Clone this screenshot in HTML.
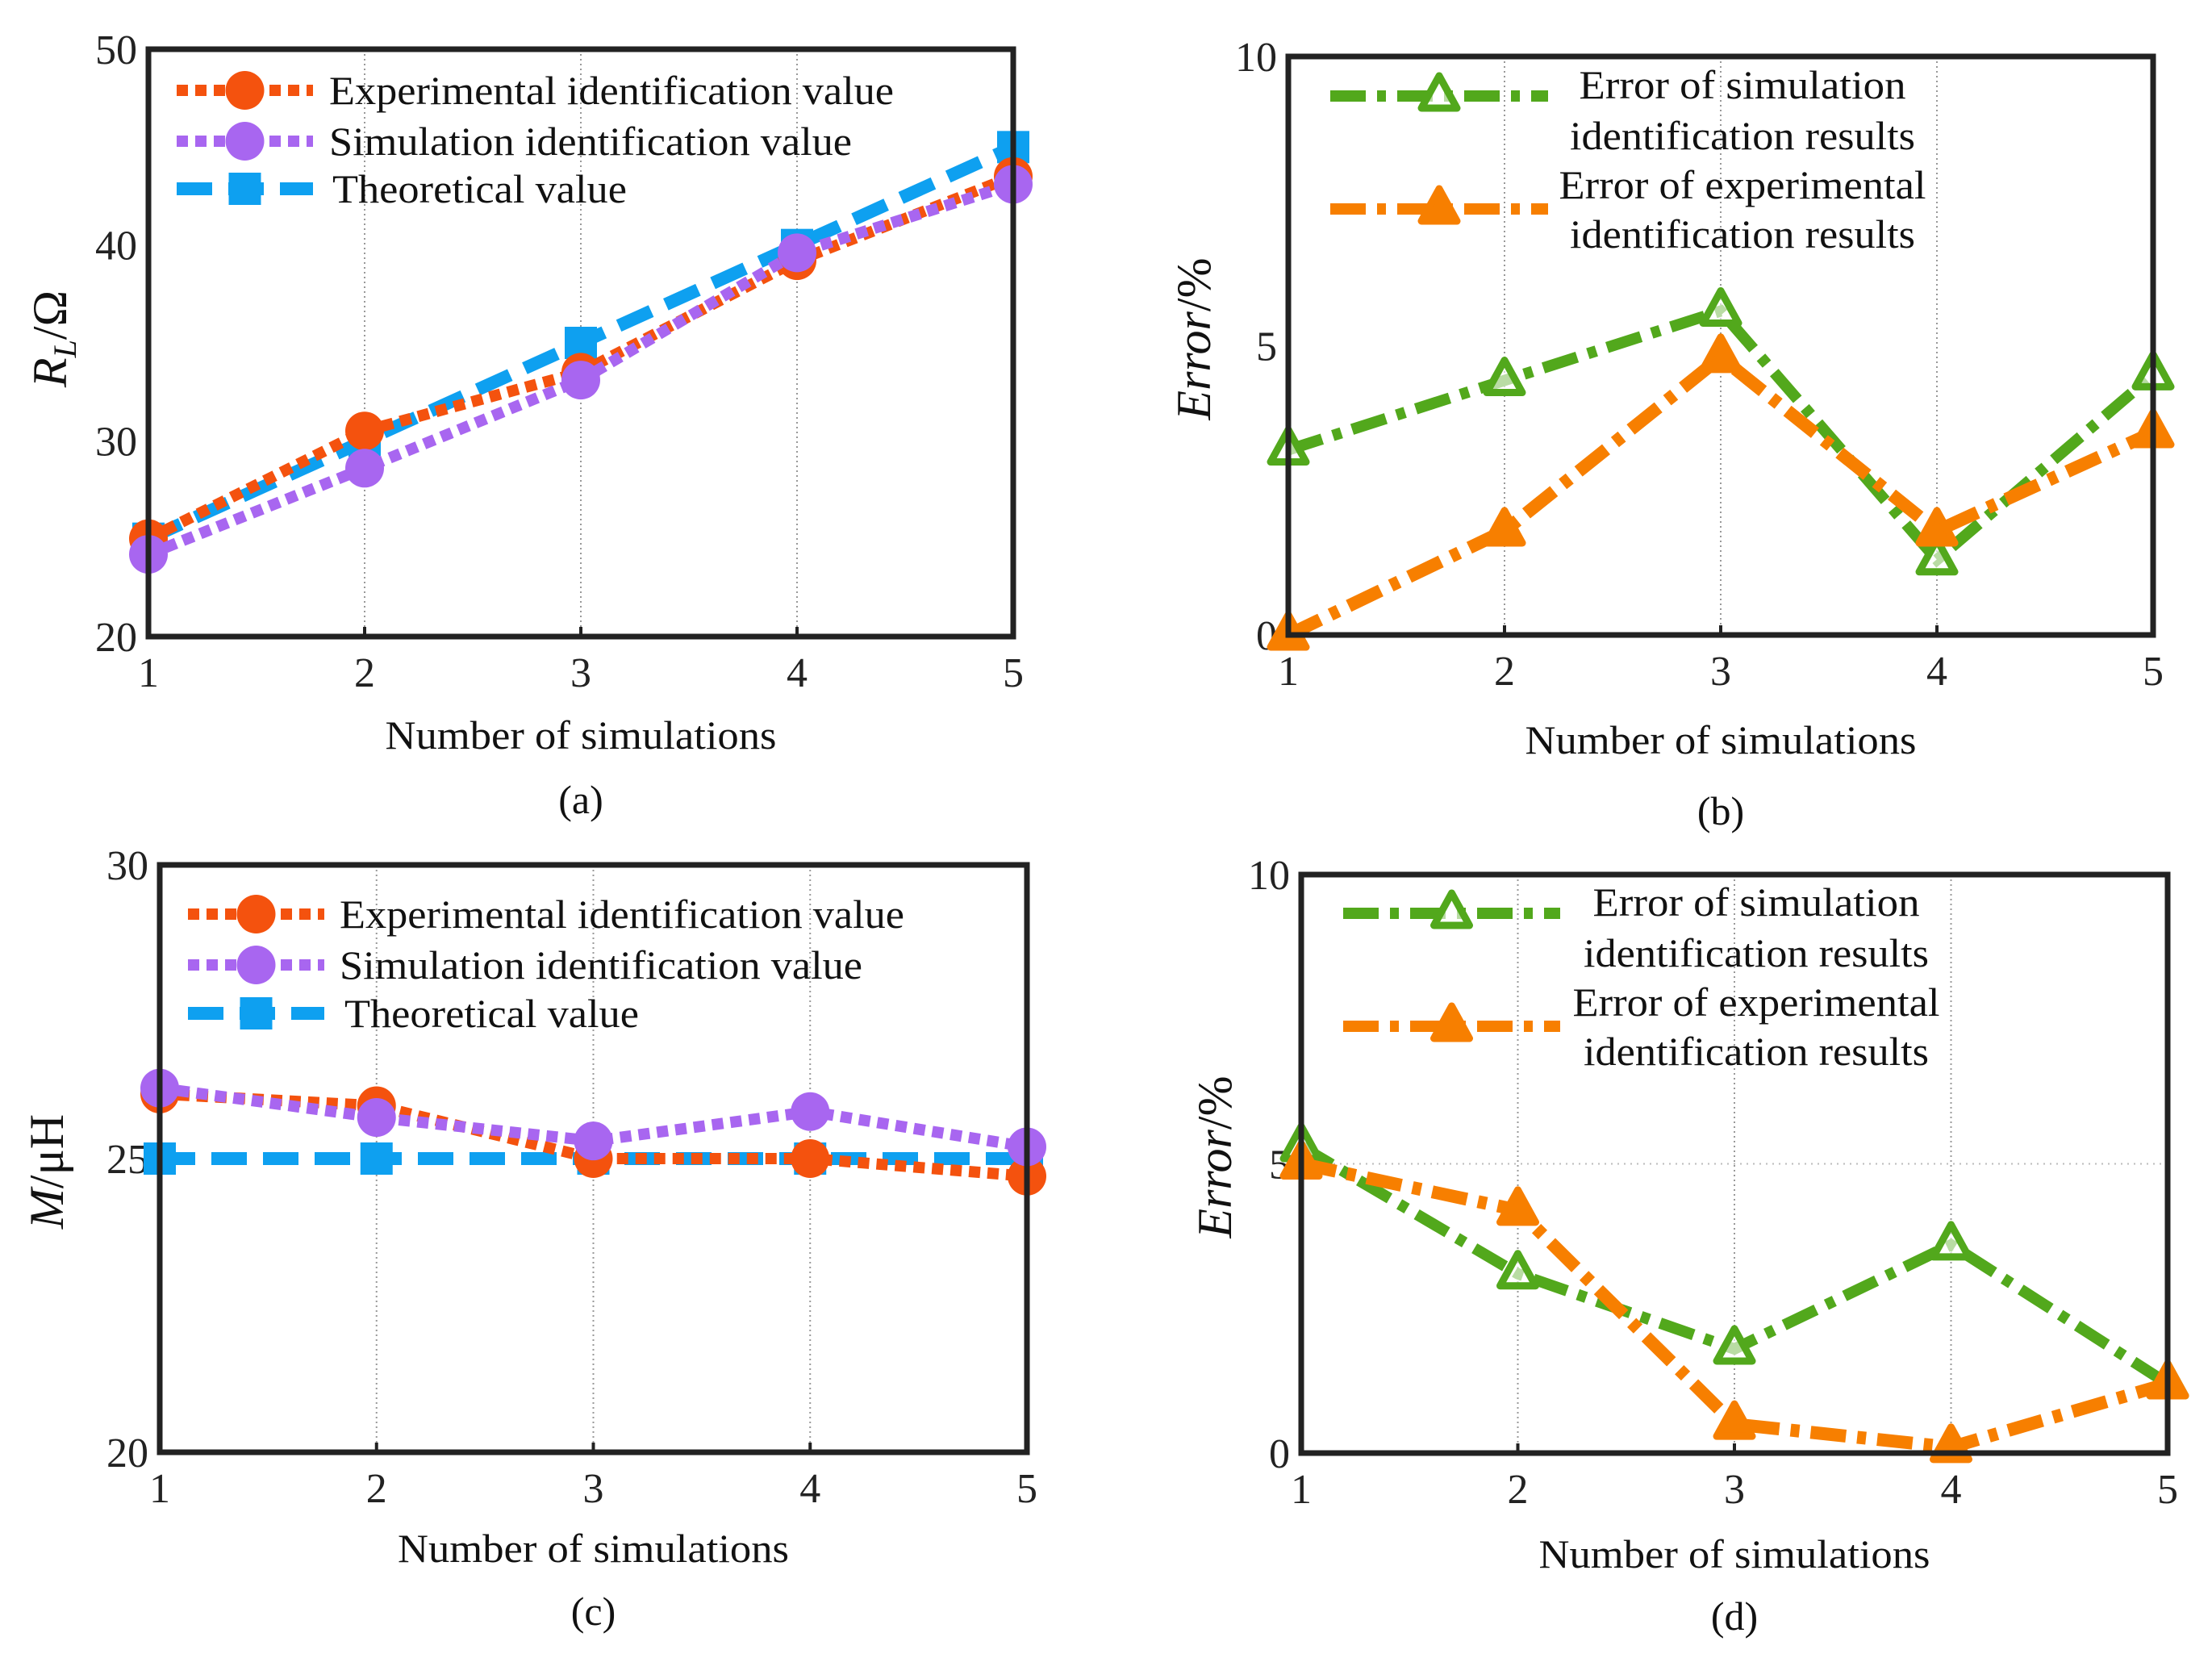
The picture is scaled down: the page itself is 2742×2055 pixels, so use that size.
<!DOCTYPE html>
<html><head><meta charset="utf-8"><style>
html,body{margin:0;padding:0;background:#fff;}
svg{display:block;font-family:"Liberation Serif",serif;}
</style></head><body>
<svg id="s" width="2742" height="2055" viewBox="0 0 2742 2055" xmlns="http://www.w3.org/2000/svg"></svg>
<script>
const xCats=[1,2,3,4,5];
const aExp=[25,30.5,33.5,39.2,43.5];
const aSim=[24.2,28.6,33.1,39.6,43.1];
const aTheo=[25,30,35,40,45];
const aTicks=[20,30,40,50];
const bSimErr=[3.2,4.4,5.6,1.3,4.5];
const bExpErr=[0,1.8,4.8,1.8,3.5];
const errTicks=[0,5,10];
const cExp=[26.1,25.9,25.0,25.0,24.7];
const cSim=[26.2,25.7,25.3,25.8,25.2];
const cTheo=[25,25,25,25,25];
const cTicks=[20,25,30];
const dSimErr=[5.3,3.1,1.8,3.6,1.2];
const dExpErr=[5.0,4.2,0.5,0.1,1.2];

const NS="http://www.w3.org/2000/svg";
const svg=document.getElementById('s');
function el(tag,attrs,parent,txt){const e=document.createElementNS(NS,tag);for(const k in attrs)e.setAttribute(k,attrs[k]);if(txt!==undefined)e.textContent=txt;(parent||svg).appendChild(e);return e;}
const C={exp:'#f4520e',sim:'#a866f0',theo:'#0ea0f0',green:'#52a81c',orange:'#f77f00'};
const DASH={dot:'14 9',long:'44 20',dd:'44 14 11 14'};

function marker(g,type,x,y,color,filled){
  let m;
  if(type==='circle'){m=el('circle',{cx:x,cy:y,r:24,fill:color},g);}
  else if(type==='square'){m=el('rect',{x:x-20,y:y-20,width:40,height:40,fill:color},g);}
  else {m=el('path',{d:`M${x} ${y-25} L${x+22} ${y+15} L${x-22} ${y+15} Z`,fill:filled?color:'#fff','fill-opacity':filled?1:0.6,stroke:color,'stroke-width':9,'stroke-linejoin':'round'},g);}
  return m;
}

function panel(o){
  const g=el('g',{});
  
  
  const X=v=>o.x0+(v-1)/(4)*(o.x1-o.x0);
  const Y=v=>o.y1-(v-o.ymin)/(o.ymax-o.ymin)*(o.y1-o.y0);
  xCats.slice(1,4).forEach(v=>{const l=el('line',{x1:X(v),x2:X(v),y1:o.y0,y2:o.y1,stroke:'#999','stroke-width':2,'stroke-dasharray':'2 4'},g);
    });
  if(o.hgrid){const l=el('line',{x1:o.x0,x2:o.x1,y1:Y(o.hgrid),y2:Y(o.hgrid),stroke:'#bbb','stroke-width':2,'stroke-dasharray':'2 6'},g);
    }
  o.ticks.forEach(v=>{const t=el('text',{x:o.x0-14,y:Y(v)+18,'text-anchor':'end','font-size':52,fill:'#222'},g,String(v));
    });
  xCats.forEach(v=>{const t=el('text',{x:X(v),y:o.y1+62,'text-anchor':'middle','font-size':52,fill:'#222'},g,String(v));
    
    el('line',{x1:X(v),x2:X(v),y1:o.y1,y2:o.y1-12,stroke:'#222','stroke-width':4},g);});
  o.series.forEach(s=>{
    const sg=el('g',{},g);
    
    const pts=s.data.map((v,i)=>X(xCats[i])+','+Y(v)).join(' ');
    el('polyline',{points:pts,fill:'none',stroke:s.color,'stroke-width':s.w||14,'stroke-dasharray':s.dash},sg);
    s.data.forEach((v,i)=>{const m=marker(sg,s.marker,X(xCats[i]),Y(v),s.color,s.filled);
      });
  });
  const lg=el('g',{},g);
  
  o.legend.forEach(L=>{
    const eg=el('g',{},lg);
    
    el('line',{x1:L.lx0,x2:L.lx1,y1:L.y,y2:L.y,stroke:L.color,'stroke-width':L.w||14,'stroke-dasharray':L.dash},eg);
    marker(eg,L.marker,(L.lx0+L.lx1)/2,L.y,L.color,L.filled);
    L.text.forEach(tt=>{const a={x:tt.x,y:tt.y,'font-size':50,fill:'#111','text-anchor':tt.anchor||'start'};if(tt.len){a.textLength=tt.len;a.lengthAdjust='spacingAndGlyphs';}
      el('text',a,eg,tt.s);});
  });
  const b=el('rect',{x:o.x0,y:o.y0,width:o.x1-o.x0,height:o.y1-o.y0,fill:'none',stroke:'#222','stroke-width':7},g);
  
  const xl=el('text',{x:(o.x0+o.x1)/2,y:o.xlY,'text-anchor':'middle','font-size':50,fill:'#111',textLength:485,lengthAdjust:'spacingAndGlyphs'},g,'Number of simulations');
  
  const cap=el('text',{x:(o.x0+o.x1)/2,y:o.capY,'text-anchor':'middle','font-size':50,fill:'#111'},g,o.cap);
  
  const yl=el('text',{x:0,y:0,'text-anchor':'middle','font-size':60,fill:'#111',transform:`translate(${o.ylX},${o.ylY}) rotate(-90)`},g);
  
  yl.innerHTML=o.ylab;
}

panel({name:'panel-a',x0:184,x1:1256,y0:61,y1:789,ymin:20,ymax:50,ticks:aTicks,xlY:928,capY:1008,cap:'(a)',ylX:82,ylY:420,
  ylab:'<tspan font-style="italic">R</tspan><tspan font-style="italic" font-size="40" dy="12">L</tspan><tspan dy="-12">/Ω</tspan>',
  series:[{name:'theoretical-series',data:aTheo,color:C.theo,dash:DASH.long,marker:'square',w:16},
          {name:'experimental-series',data:aExp,color:C.exp,dash:DASH.dot,marker:'circle'},
          {name:'simulation-series',data:aSim,color:C.sim,dash:DASH.dot,marker:'circle'}],
  legend:[{lx0:219,lx1:388,y:112,color:C.exp,dash:DASH.dot,marker:'circle',text:[{x:408,y:129,s:'Experimental identification value',len:700}]},
          {lx0:219,lx1:388,y:175,color:C.sim,dash:DASH.dot,marker:'circle',text:[{x:408,y:192,s:'Simulation identification value',len:648}]},
          {lx0:219,lx1:388,y:234,color:C.theo,dash:DASH.long,marker:'square',w:16,text:[{x:412,y:251,s:'Theoretical value',len:365}]}]});

panel({name:'panel-b',x0:1597,x1:2669,y0:70,y1:787,ymin:0,ymax:10,ticks:errTicks,xlY:934,capY:1022,cap:'(b)',ylX:1500,ylY:420,
  ylab:'<tspan font-style="italic">Error</tspan>/%',
  series:[{name:'simulation-error-series',data:bSimErr,color:C.green,dash:DASH.dd,marker:'tri',filled:false},
          {name:'experimental-error-series',data:bExpErr,color:C.orange,dash:DASH.dd,marker:'tri',filled:true,w:16}],
  legend:[{lx0:1649,lx1:1919,y:119,color:C.green,dash:DASH.dd,marker:'tri',filled:false,text:[{x:2160,y:122,s:'Error of simulation',anchor:'middle',len:405},{x:2160,y:185,s:'identification results',anchor:'middle',len:428}]},
          {lx0:1649,lx1:1919,y:259,color:C.orange,dash:DASH.dd,marker:'tri',filled:true,text:[{x:2160,y:246,s:'Error of experimental',anchor:'middle',len:455},{x:2160,y:307,s:'identification results',anchor:'middle',len:428}]}]});

panel({name:'panel-c',x0:198,x1:1273,y0:1072,y1:1800,ymin:20,ymax:30,ticks:cTicks,xlY:1936,capY:2014,cap:'(c)',ylX:78,ylY:1452,
  ylab:'<tspan font-style="italic">M</tspan>/μH',
  series:[{name:'theoretical-series',data:cTheo,color:C.theo,dash:DASH.long,marker:'square',w:16},
          {name:'experimental-series',data:cExp,color:C.exp,dash:DASH.dot,marker:'circle'},
          {name:'simulation-series',data:cSim,color:C.sim,dash:DASH.dot,marker:'circle'}],
  legend:[{lx0:233,lx1:402,y:1133,color:C.exp,dash:DASH.dot,marker:'circle',text:[{x:421,y:1150,s:'Experimental identification value',len:700}]},
          {lx0:233,lx1:402,y:1196,color:C.sim,dash:DASH.dot,marker:'circle',text:[{x:421,y:1213,s:'Simulation identification value',len:648}]},
          {lx0:233,lx1:402,y:1256,color:C.theo,dash:DASH.long,marker:'square',w:16,text:[{x:427,y:1273,s:'Theoretical value',len:365}]}]});

panel({name:'panel-d',x0:1613,x1:2687,y0:1084,y1:1801,ymin:0,ymax:10,ticks:errTicks,hgrid:5,xlY:1943,capY:2020,cap:'(d)',ylX:1526,ylY:1434,
  ylab:'<tspan font-style="italic">Error</tspan>/%',
  series:[{name:'simulation-error-series',data:dSimErr,color:C.green,dash:DASH.dd,marker:'tri',filled:false},
          {name:'experimental-error-series',data:dExpErr,color:C.orange,dash:DASH.dd,marker:'tri',filled:true,w:16}],
  legend:[{lx0:1665,lx1:1934,y:1132,color:C.green,dash:DASH.dd,marker:'tri',filled:false,text:[{x:2177,y:1135,s:'Error of simulation',anchor:'middle',len:405},{x:2177,y:1198,s:'identification results',anchor:'middle',len:428}]},
          {lx0:1665,lx1:1934,y:1272,color:C.orange,dash:DASH.dd,marker:'tri',filled:true,text:[{x:2177,y:1259,s:'Error of experimental',anchor:'middle',len:455},{x:2177,y:1320,s:'identification results',anchor:'middle',len:428}]}]});
</script>
</body></html>
